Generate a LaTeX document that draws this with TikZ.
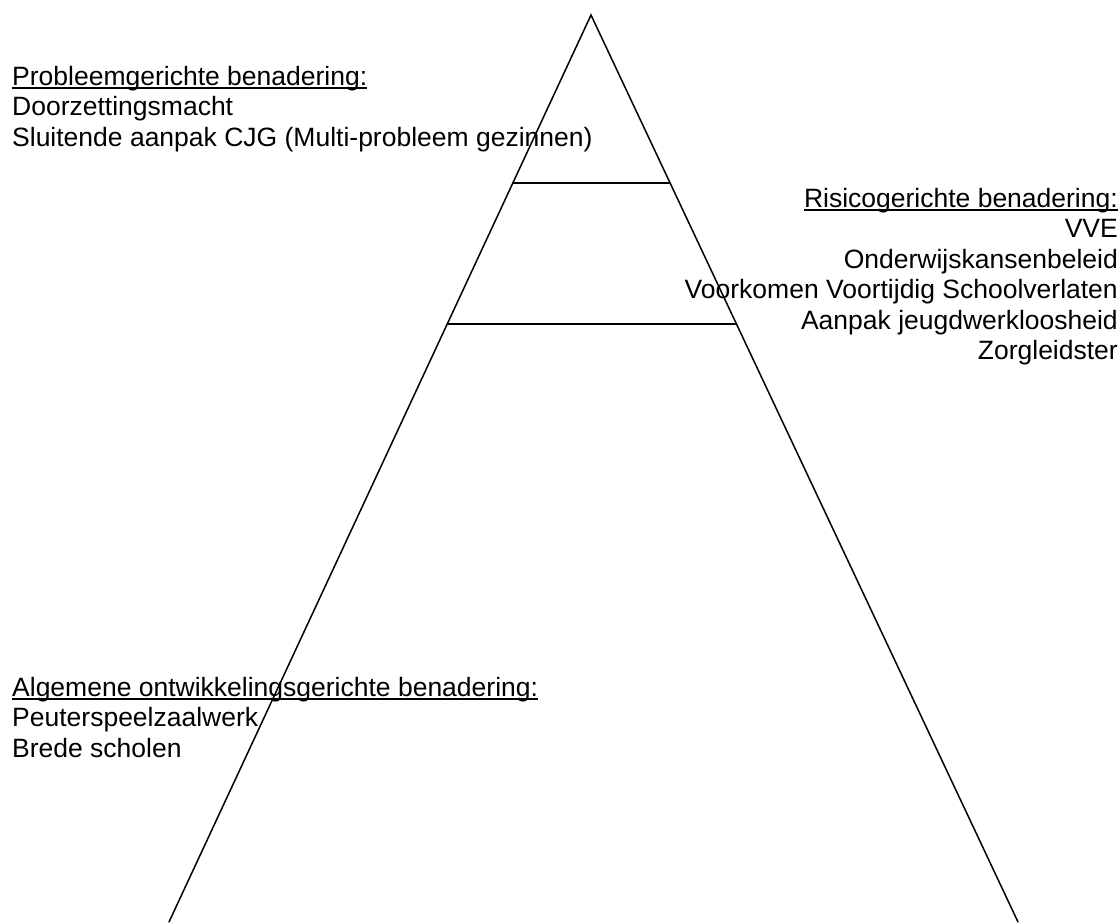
\documentclass[tikz,border=0pt]{standalone}
\usepackage{fontspec}
\setmainfont{Liberation Sans}
\usetikzlibrary{calc,positioning}

\newsavebox{\kopbox}
\newcommand{\onderstreep}[1]{\sbox{\kopbox}{#1}\rlap{\rule[-3.4pt]{\wd\kopbox}{1.8pt}}\usebox{\kopbox}}

\tikzset{
	pyr/.style={line width=1.5pt, line cap=round},
	blok/.style={inner sep=0pt, font=\fontsize{26.5}{30.5}\selectfont},
}

\begin{document}
\begin{tikzpicture}[x=1pt,y=-1pt]
	\useasboundingbox (0,0) rectangle (1120,922);
	\coordinate (top) at (591,15);
	\coordinate (bl) at (169,922);
	\coordinate (br) at (1018,922);
	\draw[pyr] (bl) -- (top) -- (br);
	\draw[pyr] ($(top)!0.1852!(bl)$) -- ($(top)!0.1852!(br)$);
	\draw[pyr] ($(top)!0.3407!(bl)$) -- ($(top)!0.3407!(br)$);

	\node[blok, anchor=north west, align=left] (probleem) at (12,66)
		{\onderstreep{Probleemgerichte benadering:}\\
		Doorzettingsmacht\\
		Sluitende aanpak CJG (Multi-probleem gezinnen)};
	\node[blok, anchor=north east, align=right] (risico) at (1118,188)
		{\onderstreep{Risicogerichte benadering:}\\
		VVE\\
		Onderwijskansenbeleid\\
		Voorkomen Voortijdig Schoolverlaten\\
		Aanpak jeugdwerkloosheid\\
		Zorgleidster};
	\node[blok, anchor=north west, align=left] (algemeen) at (12,677)
		{\onderstreep{Algemene ontwikkelingsgerichte benadering:}\\
		Peuterspeelzaalwerk\\
		Brede scholen};
\end{tikzpicture}
\end{document}
